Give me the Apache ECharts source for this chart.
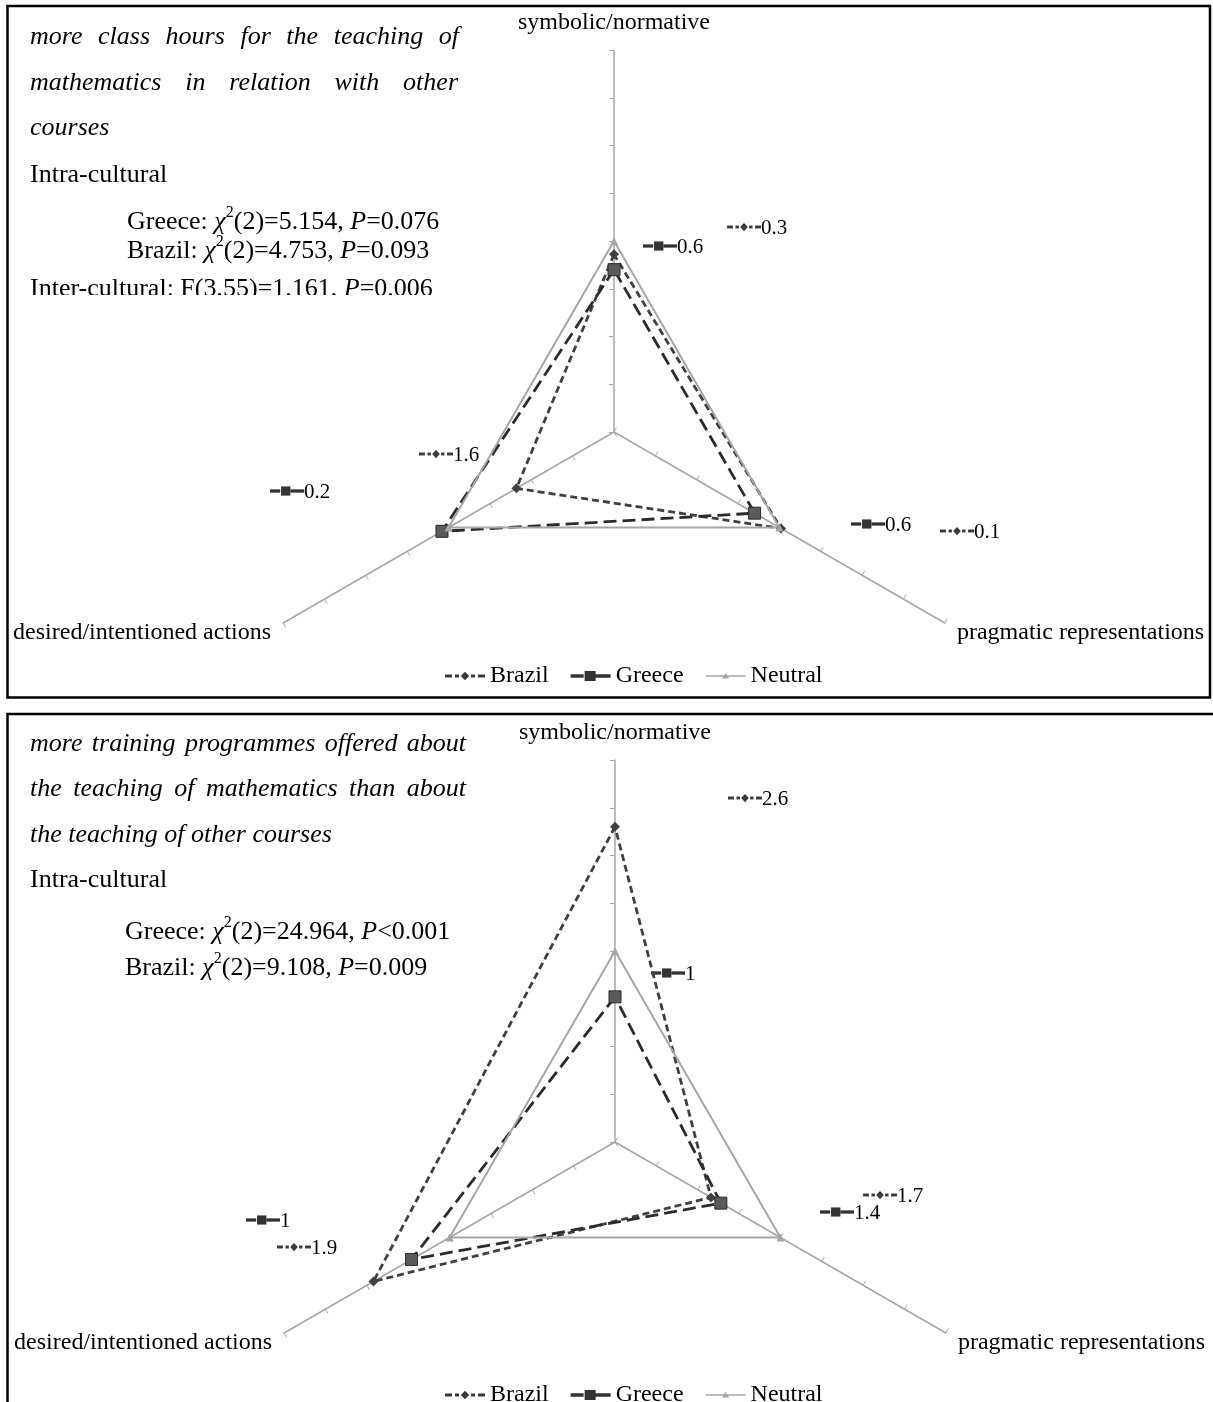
<!DOCTYPE html>
<html>
<head>
<meta charset="utf-8">
<script src="https://cdn.jsdelivr.net/npm/echarts@6/dist/echarts.min.js"></script>
<style>
  html, body { margin: 0; padding: 0; background: #fff; }
  #chart { position: absolute; left: 0; top: 0; width: 1213px; height: 1402px; }
  .box { position: absolute; overflow: hidden; }
  .ln { position: absolute; font-family: "Liberation Serif", "Times New Roman", serif; font-size: 26px; line-height: 26px; color: #000; white-space: nowrap; }
  .it { font-style: italic; }
  .just { white-space: normal; text-align: justify; text-align-last: justify; }
  sup { font-size: 16px; line-height: 0; position: relative; top: -2px; vertical-align: super; }
</style>
</head>
<body>
<div id="chart"></div>

<div class="box" style="left:0;top:10px;width:480px;height:285px;">
  <div class="ln it just" style="left:30px;top:13px;width:429px;">more class hours for the teaching of</div>
  <div class="ln it just" style="left:30px;top:59px;width:428px;">mathematics in relation with other</div>
  <div class="ln it" style="left:30px;top:104px;">courses</div>
  <div class="ln" style="left:30px;top:151px;">Intra-cultural</div>
  <div class="ln" style="left:127px;top:198px;">Greece: <i>χ</i><sup>2</sup>(2)=5.154, <i>P</i>=0.076</div>
  <div class="ln" style="left:127px;top:227px;">Brazil: <i>χ</i><sup>2</sup>(2)=4.753, <i>P</i>=0.093</div>
  <div class="ln" style="left:30px;top:265px;">Inter-cultural: F(3,55)=1.161, <i>P</i>=0.006</div>
</div>

<div class="box" style="left:0;top:718px;width:480px;height:280px;">
  <div class="ln it just" style="left:30px;top:12px;width:436px;">more training programmes offered about</div>
  <div class="ln it just" style="left:30px;top:57px;width:436px;">the teaching of mathematics than about</div>
  <div class="ln it" style="left:30px;top:103px;">the teaching of other courses</div>
  <div class="ln" style="left:30px;top:148px;">Intra-cultural</div>
  <div class="ln" style="left:125px;top:200px;">Greece: <i>χ</i><sup>2</sup>(2)=24.964, <i>P</i>&lt;0.001</div>
  <div class="ln" style="left:125px;top:236px;">Brazil: <i>χ</i><sup>2</sup>(2)=9.108<i>,</i> <i>P</i>=0.009</div>
</div>

<script>
// ---------- data ----------
// indicator order as ECharts lays them out (top, lower-left, lower-right)
const categories = ['symbolic/normative', 'desired/intentioned actions', 'pragmatic representations'];
const seriesNames = ['Brazil', 'Greece', 'Neutral'];
const axisMin = 0;
const axisMax = 2;
const axisSplits = 8;

// panel 1: more class hours
const hoursBrazil  = [0.93, 0.59, 1.01];
const hoursGreece  = [0.85, 1.04, 0.85];
const hoursNeutral = [1, 1, 1];
// panel 2: more training programmes
const trainingBrazil  = [1.65, 1.46, 0.58];
const trainingGreece  = [0.76, 1.23, 0.64];
const trainingNeutral = [1, 1, 1];

// floating value notes (same category order)
const hoursBrazilNotes     = ['0.3', '1.6', '0.1'];
const hoursGreeceNotes     = ['0.6', '0.2', '0.6'];
const trainingBrazilNotes  = ['2.6', '1.9', '1.7'];
const trainingGreeceNotes  = ['1', '1', '1.4'];

// ---------- layout / style (kept apart from data) ----------
const noteSpots = {
  hoursBrazil:    [[727, 227], [419, 454], [940, 531]],
  hoursGreece:    [[643, 246], [270, 491], [851, 524]],
  trainingBrazil: [[728, 798], [277, 1247], [863, 1195]],
  trainingGreece: [[651, 973], [246, 1220], [820, 1212]]
};
const corners = 'M0,0h0.01v0.01h-0.01z M39.99,11.99h0.01v0.01h-0.01z ';
const icons = {
  Brazil: corners + 'M0,4.5h7v3h-7z M10,4.5h4v3h-4z M20,1.8L24.2,6L20,10.2L15.8,6z M26,4.5h4v3h-4z M33,4.5h7v3h-7z',
  Greece: corners + 'M0,4.2h13v3.6h-13z M14,1h11v10h-11z M25,4.2h15v3.6h-15z',
  Neutral: corners + 'M0,5.3h40v1.4h-40z M20,3L23.6,8.6L16.4,8.6z'
};
// the same icons as primitive parts (40 x 12 design box) for the floating notes
const iconParts = {
  Brazil: [
    { r: [0, 4.4, 7, 3.2] }, { r: [10, 4.4, 4, 3.2] },
    { p: [[20, 1.5], [24.5, 6], [20, 10.5], [15.5, 6]] },
    { r: [26, 4.4, 4, 3.2] }, { r: [33, 4.4, 7, 3.2] }
  ],
  Greece: [
    { r: [0, 4.2, 12, 3.6] }, { r: [13, 1, 11, 10] }, { r: [24, 4.2, 16, 3.6] }
  ]
};
const colors = { Brazil: '#404040', Greece: '#2b2b2b', Neutral: '#a6a6a6' };
const iconColors = { Brazil: '#3a3a3a', Greece: '#333333', Neutral: '#a6a6a6' };
const serif = '"Liberation Serif", "Times New Roman", serif';

function makeRadar(center) {
  return {
    center: center,
    radius: 382,
    startAngle: 90,
    splitNumber: axisSplits,
    shape: 'polygon',
    indicator: categories.map(n => ({ name: n, min: axisMin, max: axisMax })),
    nameGap: 14,
    axisName: {
      color: '#000',
      fontFamily: serif,
      fontSize: 24,
      verticalAlign: 'middle',
      formatter: (name) => (name === categories[0] ? '{t|' + name + '}' : '{s|' + name + '}'),
      rich: {
        t: { fontFamily: serif, fontSize: 24, color: '#000', padding: [0, 0, 26, 0] },
        s: { fontFamily: serif, fontSize: 24, color: '#000', padding: [6, 0, 0, 0] }
      }
    },
    axisLine: { show: true, lineStyle: { color: '#a6a6a6', width: 1.5 } },
    axisTick: { show: true, length: 5, lineStyle: { color: '#a6a6a6', width: 1 } },
    axisLabel: { show: false },
    splitLine: { show: false },
    splitArea: { show: false }
  };
}

function makeSeries(radarIndex, b, g, n) {
  const vals = { Brazil: b, Greece: g, Neutral: n };
  return seriesNames.map(name => {
    const s = {
      type: 'radar',
      name: name,
      radarIndex: radarIndex,
      silent: true,
      data: [{ value: vals[name], name: name }]
    };
    if (name === 'Brazil') {
      s.symbol = 'diamond'; s.symbolSize = 10;
      s.itemStyle = { color: '#404040' };
      s.lineStyle = { color: colors.Brazil, width: 2.8, type: [7, 4] };
    } else if (name === 'Greece') {
      s.symbol = 'rect'; s.symbolSize = 12;
      s.itemStyle = { color: '#5a5a5a', borderColor: '#2b2b2b', borderWidth: 1 };
      s.lineStyle = { color: colors.Greece, width: 2.8, type: [13, 6] };
    } else {
      s.symbol = 'triangle'; s.symbolSize = 8;
      s.itemStyle = { color: '#a6a6a6' };
      s.lineStyle = { color: colors.Neutral, width: 2 };
    }
    return s;
  });
}

function makeLegend(top) {
  return {
    left: 440,
    top: top,
    orient: 'horizontal',
    itemWidth: 40,
    itemHeight: 12,
    itemGap: 22,
    selectedMode: false,
    textStyle: { fontFamily: serif, fontSize: 24, color: '#000' },
    data: seriesNames.map(n => ({ name: n, icon: 'path://' + icons[n], itemStyle: { color: iconColors[n], borderWidth: 0 } }))
  };
}

function iconGraphic(seriesName, w, h) {
  const sx = w / 40, sy = h / 12;
  return iconParts[seriesName].map(part => {
    if (part.r) {
      return { type: 'rect', shape: { x: part.r[0] * sx, y: part.r[1] * sy - h / 2, width: part.r[2] * sx, height: part.r[3] * sy },
               style: { fill: iconColors[seriesName] } };
    }
    return { type: 'polygon', shape: { points: part.p.map(q => [q[0] * sx, q[1] * sy - h / 2]) },
             style: { fill: iconColors[seriesName] } };
  });
}

function noteGraphics(notes, spots, seriesName) {
  return notes.map((txt, i) => ({
    type: 'group',
    x: spots[i][0],
    y: spots[i][1],
    silent: true,
    children: iconGraphic(seriesName, 34, 11).concat([
      { type: 'text', x: 34, y: 1,
        style: { text: txt, font: '21px ' + serif, fill: '#000', textAlign: 'left', textVerticalAlign: 'middle' } }
    ])
  }));
}

const chart = echarts.init(document.getElementById('chart'), null, { renderer: 'canvas' });

const graphics = [
  { type: 'rect', silent: true, z: 0, shape: { x: 7.5, y: 6, width: 1202.5, height: 691.5 },
    style: { fill: 'none', stroke: '#000', lineWidth: 2.5 } },
  { type: 'polyline', silent: true, z: 0, shape: { points: [[7.5, 1402], [7.5, 714], [1213, 714]] },
    style: { fill: 'none', stroke: '#000', lineWidth: 2.5 } }
].concat(
  noteGraphics(hoursBrazilNotes, noteSpots.hoursBrazil, 'Brazil'),
  noteGraphics(hoursGreeceNotes, noteSpots.hoursGreece, 'Greece'),
  noteGraphics(trainingBrazilNotes, noteSpots.trainingBrazil, 'Brazil'),
  noteGraphics(trainingGreeceNotes, noteSpots.trainingGreece, 'Greece')
);

chart.setOption({
  animation: false,
  backgroundColor: '#fff',
  radar: [makeRadar([614, 432]), makeRadar([615, 1142])],
  legend: [makeLegend(659), makeLegend(1378)],
  graphic: { elements: graphics },
  series: makeSeries(0, hoursBrazil, hoursGreece, hoursNeutral)
    .concat(makeSeries(1, trainingBrazil, trainingGreece, trainingNeutral))
});
</script>
</body>
</html>
